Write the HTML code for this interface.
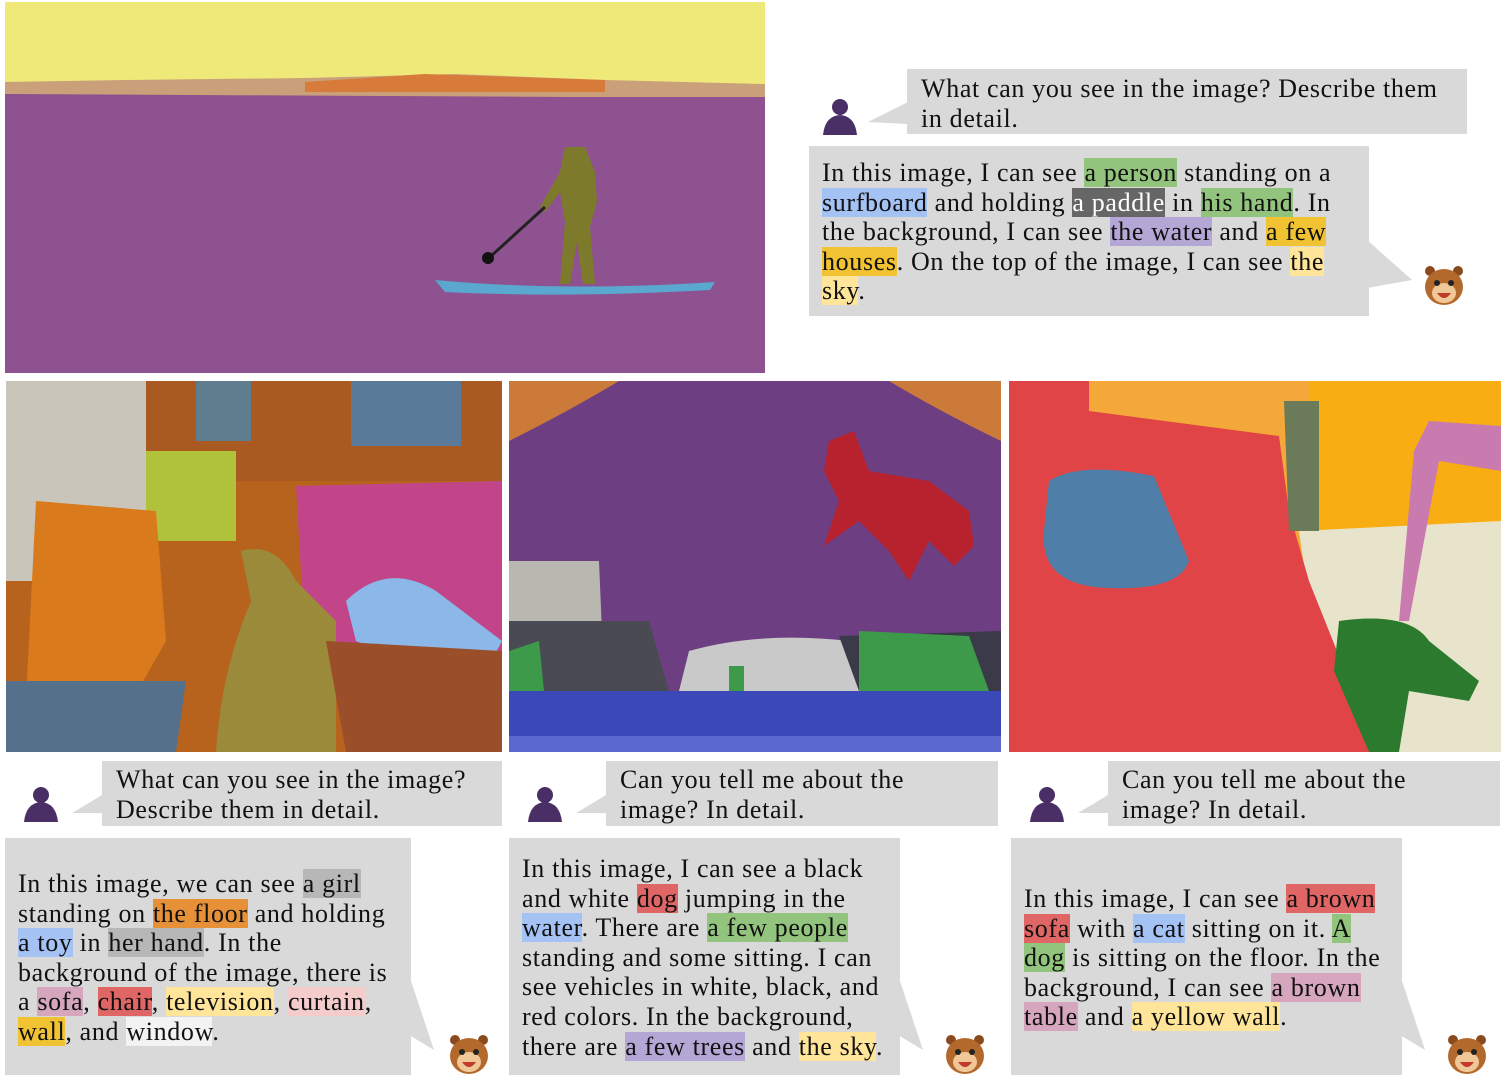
<!DOCTYPE html>
<html><head><meta charset="utf-8">
<style>
body{margin:0;width:1505px;height:1080px;background:#fff;position:relative;overflow:hidden;font-family:"Liberation Serif",serif;}
.abs{position:absolute;}
.bub{position:absolute;background:#d9d9d9;}
.txt{position:absolute;font-size:26px;letter-spacing:0.65px;line-height:29.6px;color:#111;white-space:nowrap;}
.g{background:#93c47d}.b{background:#a4c2f4}.dk{background:#666;color:#fff}.p{background:#b4a7d6}.y{background:#f1c232}.ly{background:#ffe599}
.gr{background:#b7b7b7}.o{background:#e69138}.pk{background:#d5a6bd}.r{background:#e06666}.lp{background:#f4cccc}.w{background:#f3f3f3}.mg{background:#c27ba0}
svg{position:absolute;}
</style></head><body>

<svg style="left:5px;top:2px" width="760" height="371">
<rect width="760" height="371" fill="#8e4f8e"/>
<rect width="760" height="82" fill="#efe97a"/>
<path d="M0 80 L120 78 L300 76 L450 72 L600 78 L760 82 L760 96 L0 92Z" fill="#c9a07a"/>
<path d="M300 80 L420 72 L600 78 L600 90 L300 90Z" fill="#d87b3a"/>
<rect y="95" width="760" height="276" fill="#8f5290"/>
<path d="M430 278 Q560 290 710 280 L705 288 Q560 296 440 290Z" fill="#5aa7d0"/>
<path d="M560 145 L580 145 L590 170 L592 200 L585 225 L590 282 L578 282 L572 240 L565 282 L555 282 L560 220 L555 190 L540 210 L535 205 L555 170Z" fill="#7d7a2b"/>
<line x1="540" y1="205" x2="485" y2="255" stroke="#222" stroke-width="3"/>
<circle cx="483" cy="256" r="6" fill="#111"/>
</svg>

<svg style="left:6px;top:381px" width="496" height="371">
<rect width="496" height="371" fill="#b8631d"/>
<rect width="140" height="200" fill="#c9c5bb"/>
<rect x="140" y="0" width="356" height="100" fill="#a85a20"/>
<rect x="190" y="0" width="55" height="60" fill="#5f7d8f"/>
<rect x="345" y="0" width="110" height="65" fill="#5a7a9a"/>
<rect x="140" y="70" width="90" height="90" fill="#b0c23a"/>
<path d="M290 105 L496 100 L496 280 L300 280Z" fill="#c2458a"/>
<path d="M30 120 L150 130 L160 260 L120 330 L20 320Z" fill="#d97a1c"/>
<path d="M0 300 L180 300 L170 371 L0 371Z" fill="#54708a"/>
<path d="M235 170 Q270 160 290 200 L330 240 L330 371 L210 371 Q215 290 245 220Z" fill="#9a8a3a"/>
<path d="M340 220 Q380 180 430 210 L496 260 L480 290 L400 280 L350 260Z" fill="#8bb8e8"/>
<path d="M320 260 L496 270 L496 371 L340 371Z" fill="#9a4f2a"/>
</svg>

<svg style="left:509px;top:381px" width="492" height="371">
<rect width="492" height="371" fill="#6d3f82"/>
<path d="M0 0 L110 0 Q60 30 0 60Z" fill="#cc7a3a"/>
<path d="M380 0 L492 0 L492 60 Q430 30 380 0Z" fill="#cc7a3a"/>
<path d="M0 180 L90 180 L95 300 L0 300Z" fill="#b8b8b0"/>
<path d="M0 240 L140 240 L160 310 L0 310Z" fill="#4a4a55"/>
<path d="M180 270 Q250 250 340 260 L360 310 L170 310Z" fill="#c9c9c9"/>
<path d="M330 255 L492 250 L492 310 L350 310Z" fill="#3a3a48"/>
<path d="M350 250 L460 255 L480 310 L350 310Z" fill="#3c9a4a"/>
<path d="M0 270 L30 260 L35 310 L0 310Z" fill="#3c9a4a"/>
<rect x="220" y="285" width="15" height="25" fill="#3c9a4a"/>
<rect y="310" width="492" height="61" fill="#3a48b8"/>
<rect y="355" width="492" height="16" fill="#5a68d0"/>
<path d="M320 60 L345 50 L360 90 L420 100 L460 130 L465 165 L445 185 L420 160 L400 200 L380 170 L350 140 L315 165 L330 120 L315 90Z" fill="#b8222f"/>
</svg>

<svg style="left:1009px;top:381px" width="492" height="371">
<rect width="492" height="371" fill="#f4a83a"/>
<rect x="300" y="0" width="192" height="150" fill="#f8ad12"/>
<path d="M290 150 L492 140 L492 371 L360 371 L300 220Z" fill="#e8e4cc"/>
<path d="M0 0 L80 0 L80 30 L270 55 L280 130 L300 200 L340 300 L360 371 L0 371Z" fill="#e04446"/>
<path d="M275 20 L310 20 L310 150 L280 150Z" fill="#6b7a58"/>
<path d="M40 100 Q70 80 145 95 L180 180 Q170 210 100 207 Q30 205 35 150Z" fill="#4f7ea8"/>
<path d="M330 240 Q400 230 420 260 L470 300 L460 320 L400 310 L390 371 L360 371 L325 290Z" fill="#2c7a2e"/>
<path d="M420 40 L492 45 L492 90 L430 80 L400 240 L390 240 L405 70Z" fill="#c97bb0"/>
</svg>

<!-- top conversation -->
<svg style="left:820px;top:98px" width="40" height="38"><circle cx="20" cy="9" r="8" fill="#4a2f66"/><path d="M3 37 Q5 18 20 17 Q35 18 37 37Z" fill="#4a2f66"/></svg>
<div class="bub" style="left:907px;top:69px;width:560px;height:65px"></div>
<svg class="abs" style="left:868px;top:102px" width="42" height="24"><path d="M40 0 L0 20 L40 22Z" fill="#d9d9d9"/></svg>
<div class="txt" style="left:921px;top:74px">What can you see in the image? Describe them<br>in detail.</div>
<div class="bub" style="left:809px;top:146px;width:560px;height:170px"></div>
<svg class="abs" style="left:1367px;top:240px" width="50" height="50"><path d="M0 0 L45 40 L0 48Z" fill="#d9d9d9"/></svg>
<div class="txt" style="left:822px;top:158px">In this image, I can see <span class="g">a person</span> standing on a<br><span class="b">surfboard</span> and holding <span class="dk">a paddle</span> in <span class="g">his hand</span>. In<br>the background, I can see <span class="p">the water</span> and <span class="y">a few</span><br><span class="y">houses</span>. On the top of the image, I can see <span class="ly">the</span><br><span class="ly">sky</span>.</div>
<svg style="left:1422px;top:263px" width="44" height="44"><circle cx="8" cy="8" r="5" fill="#8a4a1e"/><circle cx="36" cy="8" r="5" fill="#8a4a1e"/><ellipse cx="22" cy="24" rx="19" ry="18" fill="#b4692c"/><ellipse cx="22" cy="30" rx="12" ry="10" fill="#f0c898"/><circle cx="15" cy="20" r="3" fill="#222"/><circle cx="29" cy="20" r="3" fill="#222"/><path d="M15 30 Q22 40 29 30Z" fill="#c0392b"/></svg>

<!-- bottom conversations -->
<div class="bub" style="left:102px;top:761px;width:400px;height:65px"></div>
<div class="bub" style="left:606px;top:761px;width:392px;height:65px"></div>
<div class="bub" style="left:1108px;top:761px;width:392px;height:65px"></div>
<svg class="abs" style="left:72px;top:795px" width="32" height="20"><path d="M30 0 L0 18 L30 18Z" fill="#d9d9d9"/></svg>
<svg class="abs" style="left:576px;top:795px" width="32" height="20"><path d="M30 0 L0 18 L30 18Z" fill="#d9d9d9"/></svg>
<svg class="abs" style="left:1078px;top:795px" width="32" height="20"><path d="M30 0 L0 18 L30 18Z" fill="#d9d9d9"/></svg>
<svg style="left:22px;top:786px" width="38" height="36"><circle cx="19" cy="9" r="8" fill="#4a2f66"/><path d="M2 36 Q4 17 19 16 Q34 17 36 36Z" fill="#4a2f66"/></svg>
<svg style="left:526px;top:786px" width="38" height="36"><circle cx="19" cy="9" r="8" fill="#4a2f66"/><path d="M2 36 Q4 17 19 16 Q34 17 36 36Z" fill="#4a2f66"/></svg>
<svg style="left:1028px;top:786px" width="38" height="36"><circle cx="19" cy="9" r="8" fill="#4a2f66"/><path d="M2 36 Q4 17 19 16 Q34 17 36 36Z" fill="#4a2f66"/></svg>
<div class="txt" style="left:116px;top:765px">What can you see in the image?<br>Describe them in detail.</div>
<div class="txt" style="left:620px;top:765px">Can you tell me about the<br>image? In detail.</div>
<div class="txt" style="left:1122px;top:765px">Can you tell me about the<br>image? In detail.</div>

<div class="bub" style="left:5px;top:838px;width:406px;height:237px"></div>
<div class="bub" style="left:509px;top:838px;width:391px;height:237px"></div>
<div class="bub" style="left:1011px;top:838px;width:391px;height:237px"></div>
<svg class="abs" style="left:409px;top:975px" width="30" height="80"><path d="M0 0 L25 75 L0 60Z" fill="#d9d9d9"/></svg>
<svg class="abs" style="left:898px;top:975px" width="30" height="80"><path d="M0 0 L25 75 L0 60Z" fill="#d9d9d9"/></svg>
<svg class="abs" style="left:1400px;top:975px" width="30" height="80"><path d="M0 0 L25 75 L0 60Z" fill="#d9d9d9"/></svg>

<div class="txt" style="left:18px;top:869px">In this image, we can see <span class="gr">a girl</span><br>standing on <span class="o">the floor</span> and holding<br><span class="b">a toy</span> in <span class="gr">her hand</span>. In the<br>background of the image, there is<br>a <span class="pk">sofa</span>, <span class="r">chair</span>, <span class="ly">television</span>, <span class="lp">curtain</span>,<br><span class="y">wall</span>, and <span class="w">window</span>.</div>
<div class="txt" style="left:522px;top:854px">In this image, I can see a black<br>and white <span class="r">dog</span> jumping in the<br><span class="b">water</span>. There are <span class="g">a few people</span><br>standing and some sitting. I can<br>see vehicles in white, black, and<br>red colors. In the background,<br>there are <span class="p">a few trees</span> and <span class="ly">the sky</span>.</div>
<div class="txt" style="left:1024px;top:884px">In this image, I can see <span class="r">a brown</span><br><span class="r">sofa</span> with <span class="b">a cat</span> sitting on it. <span class="g">A</span><br><span class="g">dog</span> is sitting on the floor. In the<br>background, I can see <span class="pk">a brown</span><br><span class="pk">table</span> and <span class="ly">a yellow wall</span>.</div>

<svg style="left:447px;top:1032px" width="44" height="44"><circle cx="8" cy="8" r="5" fill="#8a4a1e"/><circle cx="36" cy="8" r="5" fill="#8a4a1e"/><ellipse cx="22" cy="24" rx="19" ry="18" fill="#b4692c"/><ellipse cx="22" cy="30" rx="12" ry="10" fill="#f0c898"/><circle cx="15" cy="20" r="3" fill="#222"/><circle cx="29" cy="20" r="3" fill="#222"/><path d="M15 30 Q22 40 29 30Z" fill="#c0392b"/></svg>
<svg style="left:943px;top:1032px" width="44" height="44"><circle cx="8" cy="8" r="5" fill="#8a4a1e"/><circle cx="36" cy="8" r="5" fill="#8a4a1e"/><ellipse cx="22" cy="24" rx="19" ry="18" fill="#b4692c"/><ellipse cx="22" cy="30" rx="12" ry="10" fill="#f0c898"/><circle cx="15" cy="20" r="3" fill="#222"/><circle cx="29" cy="20" r="3" fill="#222"/><path d="M15 30 Q22 40 29 30Z" fill="#c0392b"/></svg>
<svg style="left:1445px;top:1032px" width="44" height="44"><circle cx="8" cy="8" r="5" fill="#8a4a1e"/><circle cx="36" cy="8" r="5" fill="#8a4a1e"/><ellipse cx="22" cy="24" rx="19" ry="18" fill="#b4692c"/><ellipse cx="22" cy="30" rx="12" ry="10" fill="#f0c898"/><circle cx="15" cy="20" r="3" fill="#222"/><circle cx="29" cy="20" r="3" fill="#222"/><path d="M15 30 Q22 40 29 30Z" fill="#c0392b"/></svg>
</body></html>
